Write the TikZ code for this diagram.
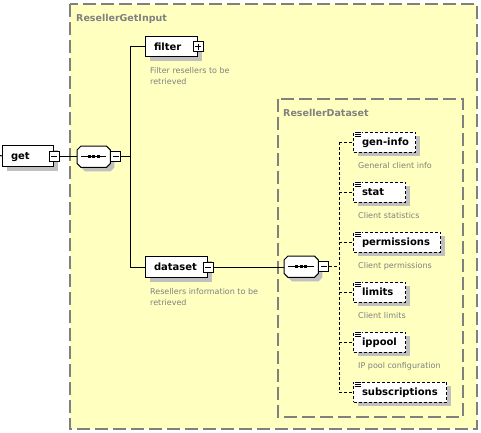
\documentclass[tikz,border=0pt]{standalone}
\usepackage{fontspec}
\setmainfont{DejaVu Sans}
\usetikzlibrary{shadows}
\definecolor{bgy}{HTML}{FFFFC0}
\definecolor{shd}{HTML}{C0C0C0}
\definecolor{gtx}{HTML}{808080}
\newcommand\lbl[2]{\hbox to #1pt{\hskip 8.5pt\relax #2\hfil}}
\newcommand\octa[3]{([xshift=4pt+#2,yshift=#3]#1.north west) -- ([xshift=-4pt+#2,yshift=#3]#1.north east) -- ([xshift=#2,yshift=-4pt+#3]#1.north east) -- ([xshift=#2,yshift=4pt+#3]#1.south east) -- ([xshift=-4pt+#2,yshift=#3]#1.south east) -- ([xshift=4pt+#2,yshift=#3]#1.south west) -- ([xshift=#2,yshift=4pt+#3]#1.south west) -- ([xshift=#2,yshift=-4pt+#3]#1.north west) -- cycle}
\newcommand\seqsym[1]{%
  \fill[shd] \octa{#1}{4pt}{-4pt};
  \draw[fill=white,line width=1pt] \octa{#1}{0pt}{0pt};
  \draw[line width=1pt] ([xshift=4pt]#1.west) -- ([xshift=-4pt]#1.east);
  \foreach \dx in {-4.5,0,4.5}{\fill ([xshift=\dx pt]#1.center) ++(-1.5,-1.5) rectangle +(3,3);}}
\begin{document}
\begin{tikzpicture}[x=1pt,y=-1pt,
  grpbox/.style={draw=gtx,fill=bgy,line width=1.5pt,dash pattern=on 13pt off 5pt},
  gtitle/.style={anchor=base west,inner sep=0,text=gtx,font=\fontsize{9.5}{11}\selectfont\bfseries},
  myshadow/.style={drop shadow={shadow xshift=4pt,shadow yshift=-4pt,fill=shd,opacity=1,draw=none}},
  elem/.style={draw,fill=white,line width=1pt,anchor=north west,inner sep=0,myshadow,
    minimum height=20pt,text height=7.5pt,text depth=0pt,font=\fontsize{10}{12}\selectfont\bfseries},
  optelem/.style={elem,dash pattern=on 3pt off 2pt},
  tog/.style={draw,fill=white,line width=1pt,anchor=center,inner sep=0,minimum size=10pt,
    path picture={\draw[line width=1pt] ([xshift=2pt]path picture bounding box.west) -- ([xshift=-2pt]path picture bounding box.east);}},
  plustog/.style={tog,
    path picture={\draw[line width=1pt] ([xshift=2pt]path picture bounding box.west) -- ([xshift=-2pt]path picture bounding box.east);
                  \draw[line width=1pt] ([yshift=-2pt]path picture bounding box.north) -- ([yshift=2pt]path picture bounding box.south);}},
  comp/.style={anchor=north west,inner sep=0,minimum width=33pt,minimum height=21pt},
  desc/.style={anchor=base west,align=left,inner sep=0,text=gtx,font=\fontsize{8}{11}\selectfont},
  conn/.style={line width=1pt},
  dconn/.style={line width=1pt,dash pattern=on 3pt off 2pt}
]
\useasboundingbox (0,0) rectangle (481,432);
\fill[white] (0,0) rectangle (481,432);
% groups
\draw[grpbox] (70,4) rectangle (477,429);
\node[gtitle] (t1) at (76,21) {ResellerGetInput};
\draw[grpbox] (278,99) rectangle (463,417);
\node[gtitle] (t2) at (283,116) {ResellerDataset};
% main elements
\node[elem,minimum width=51pt,minimum height=21pt] (get) at (2,145) {\lbl{51}{get}};
\node[tog] (getm) at (get.east) {};
\node[comp] (c1) at (77,146) {};
\seqsym{c1}
\node[tog,anchor=west] (c1m) at (c1.east) {};
\node[elem,minimum width=52pt] (filter) at (145,36) {\lbl{52}{filter}};
\node[plustog] (filterp) at (filter.east) {};
\node[desc] (filterd) at ([shift={(5,27)}]filter.south west) {Filter resellers to be\\retrieved};
\node[elem,minimum width=62pt,minimum height=21pt] (dataset) at (145,256) {\lbl{62}{dataset}};
\node[tog] (datasetm) at (dataset.east) {};
\node[desc] (datasetd) at ([shift={(5,27)}]dataset.south west) {Resellers information to be\\retrieved};
\node[comp,minimum width=34pt] (c2) at (284,256) {};
\seqsym{c2}
\node[tog,anchor=west] (c2m) at (c2.east) {};
% children
\node[optelem,minimum width=62pt] (gi) at (353,131.5) {\lbl{62}{gen-info}};
\node[optelem,minimum width=52pt] (st) at (353,181.5) {\lbl{52}{stat}};
\node[optelem,minimum width=87pt] (pe) at (353,231.5) {\lbl{87}{permissions}};
\node[optelem,minimum width=52pt] (li) at (353,281.5) {\lbl{52}{limits}};
\node[optelem,minimum width=52pt] (ip) at (353,331.5) {\lbl{52}{ippool}};
\node[optelem,minimum width=93pt] (su) at (353,381.5) {\lbl{93}{subscriptions}};
\node[desc] (gid) at ([shift={(5,16)}]gi.south west) {General client info};
\node[desc] (std) at ([shift={(5,16)}]st.south west) {Client statistics};
\node[desc] (ped) at ([shift={(5,16)}]pe.south west) {Client permissions};
\node[desc] (lid) at ([shift={(5,16)}]li.south west) {Client limits};
\node[desc] (ipd) at ([shift={(5,16)}]ip.south west) {IP pool configuration};
% icons
\foreach \n in {gi,st,pe,li,ip,su}{
  \fill[white] ([shift={(1,-0.5)}]\n.north west) rectangle +(7.5,6);
  \foreach \dy in {0.5,2.5,4.5}
    \draw[line width=1pt] ([shift={(1.5,\dy)}]\n.north west) -- +(6,0);
}
% connectors
\coordinate (lin) at (0,155.5);
\coordinate (tr) at (130,0);
\coordinate (tr2) at (339,0);
\draw[conn] (lin) -- (get.west);
\draw[conn] (getm.east) -- (getm.east -| c1.west);
\draw[conn] (c1m.east) -- (c1m.east -| tr);
\draw[conn] (filter.west) -- (filter.west -| tr) -- (dataset.west -| tr) -- (dataset.west);
\draw[conn] (datasetm.east) -- (datasetm.east -| c2.west);
\draw[dconn] (c2m.east) -- (c2m.east -| tr2);
\draw[dconn] (gi.west -| tr2) -- (su.west -| tr2);
\foreach \n in {gi,st,pe,li,ip,su}
  \draw[dconn] (\n.west -| tr2) -- (\n.west);
\end{tikzpicture}
\end{document}
